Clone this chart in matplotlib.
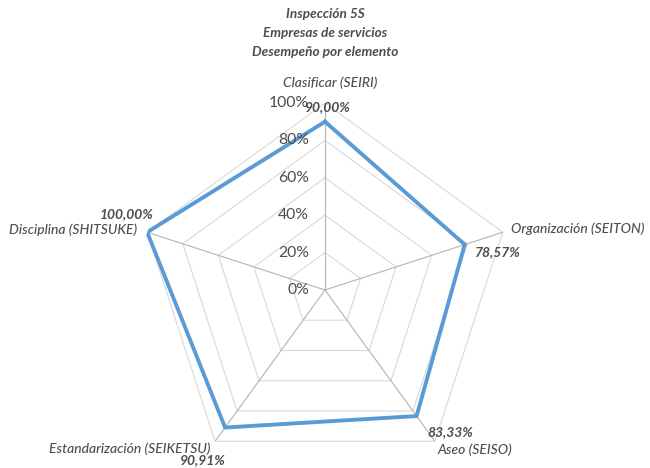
import numpy as np
import matplotlib
matplotlib.use('Agg')
import matplotlib.pyplot as plt

plt.rcParams['font.family'] = ['Lato', 'DejaVu Sans']

# Desempeño por elemento (%)
categories = ['Clasificar (SEIRI)', 'Organización (SEITON)', 'Aseo (SEISO)',
              'Estandarización (SEIKETSU)', 'Disciplina (SHITSUKE)']
values = [90.00, 78.57, 83.33, 90.91, 100.00]
value_labels = ['90,00%', '78,57%', '83,33%', '90,91%', '100,00%']
rings = [20, 40, 60, 80, 100]
ring_labels = ['0%', '20%', '40%', '60%', '80%', '100%']
title_lines = ['Inspección 5S', 'Empresas de servicios', 'Desempeño por elemento']

text_color = '#4d4d4d'
line_color = '#5b9bd5'

fig = plt.figure(figsize=(6.5, 4.68), dpi=100)
ax = fig.add_axes([0.2123, -0.0192, 0.5754, 0.7991], projection='polar')
ax.set_theta_offset(np.pi / 2)
ax.set_theta_direction(-1)
ax.set_ylim(0, 100)
ax.grid(False)
ax.set_xticks([])
ax.set_yticks([])
ax.spines['polar'].set_visible(False)
ax.patch.set_alpha(0)

n = len(categories)
theta = np.linspace(0, 2 * np.pi, n, endpoint=False)
theta_closed = np.append(theta, theta[0])

# pentagon rings and spokes
for r in rings:
    ax.plot(theta_closed, [r] * (n + 1), color='#d9d9d9', lw=0.8, zorder=1)
for t in theta:
    ax.plot([t, t], [0, 100], color='#b3b3b3', lw=0.8, zorder=1)

vals_closed = np.append(values, values[0])
ax.plot(theta_closed, vals_closed, color=line_color, lw=2.8, zorder=3,
        solid_joinstyle='miter')

# radial tick labels along the top spoke
for i, lab in enumerate(ring_labels):
    ax.annotate(lab, xy=(0, i * 20), xytext=(-16, 0), textcoords='offset pixels',
                ha='right', va='center', fontsize=11.3, color=text_color)

# category labels at the outer vertices
cat_offsets = [(5, 20, 'center'), (8, 3, 'left'), (3, -8, 'left'),
               (-5, -7, 'right'), (-10, 2, 'right')]
for t, lab, (dx, dy, ha) in zip(theta, categories, cat_offsets):
    ax.annotate(lab, xy=(t, 100), xytext=(dx, dy), textcoords='offset pixels',
                ha=ha, va='center', fontsize=10, style='italic', fontweight='medium',
                color=text_color)

# data labels
val_offsets = [(3, 15, 'center'), (10, -7, 'left'), (11, -16, 'left'),
               (1, -33, 'right'), (6, 18, 'right')]
for t, v, lab, (dx, dy, ha) in zip(theta, values, value_labels, val_offsets):
    ax.annotate(lab, xy=(t, v), xytext=(dx, dy), textcoords='offset pixels',
                ha=ha, va='center', fontsize=10, style='italic', fontweight='bold',
                color=text_color)

for i, line in enumerate(title_lines):
    fig.text(0.5, 1 - (14 + 19 * i) / 468, line, ha='center', va='center',
             fontsize=9.8, style='italic', fontweight='bold', color=text_color)

fig.savefig('out.png', dpi=100)
